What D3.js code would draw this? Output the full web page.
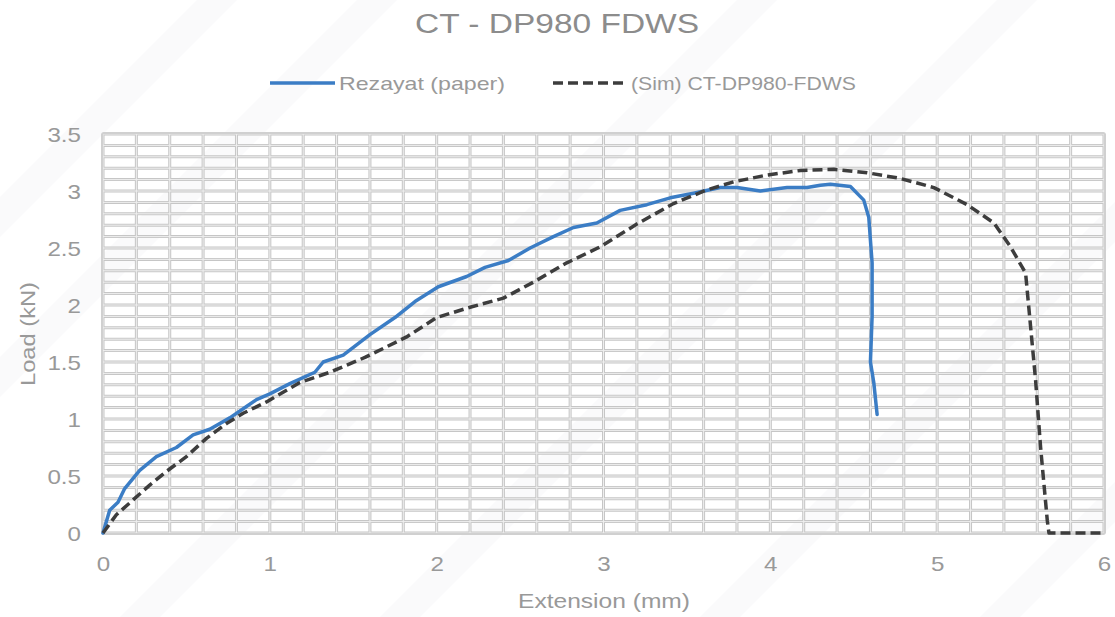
<!DOCTYPE html>
<html>
<head>
<meta charset="utf-8">
<script src="https://cdn.jsdelivr.net/npm/d3@7"></script>
<style>
  html, body { margin: 0; padding: 0; background: #ffffff; }
  svg { display: block; font-family: "Liberation Sans", Arial, sans-serif; }
</style>
</head>
<body>
<svg id="chart" width="1115" height="617"></svg>
<script>
// Load–extension curves for the CT specimen, DP980 FDWS
const titleText = "CT - DP980 FDWS";
const seriesNames = ["Rezayat (paper)", "(Sim) CT-DP980-FDWS"];

const paperExt  = [0, 0.04, 0.09, 0.13, 0.22, 0.32, 0.44, 0.54, 0.64, 0.76, 0.86, 0.92, 1.00, 1.12, 1.27, 1.32,
                   1.44, 1.60, 1.75, 1.87, 2.01, 2.18, 2.29, 2.43, 2.56, 2.70, 2.82, 2.96, 3.10, 3.26, 3.40, 3.54,
                   3.70, 3.80, 3.94, 4.10, 4.22, 4.30, 4.36, 4.48, 4.56, 4.59, 4.60, 4.61, 4.61, 4.60, 4.62, 4.64];
const paperLoad = [0, 0.20, 0.27, 0.39, 0.55, 0.67, 0.75, 0.86, 0.91, 1.01, 1.11, 1.17, 1.22, 1.31, 1.41, 1.50,
                   1.56, 1.74, 1.89, 2.03, 2.16, 2.25, 2.33, 2.39, 2.50, 2.60, 2.68, 2.72, 2.83, 2.88, 2.94, 2.98,
                   3.03, 3.03, 3.00, 3.03, 3.03, 3.05, 3.06, 3.04, 2.92, 2.77, 2.57, 2.37, 1.90, 1.50, 1.32, 1.04];

const simExt  = [0, 0.08, 0.18, 0.28, 0.38, 0.50, 0.62, 0.74, 0.84, 0.98, 1.18, 1.36, 1.57, 1.82, 2.00, 2.20,
                 2.40, 2.58, 2.78, 2.98, 3.20, 3.42, 3.62, 3.78, 3.98, 4.18, 4.38, 4.58, 4.78, 4.98, 5.18, 5.34,
                 5.44, 5.53, 5.56, 5.59, 5.62, 5.66, 5.67, 6.00];
const simLoad = [0, 0.16, 0.29, 0.42, 0.54, 0.67, 0.83, 0.96, 1.05, 1.15, 1.32, 1.41, 1.54, 1.72, 1.89, 1.98,
                 2.06, 2.20, 2.37, 2.51, 2.71, 2.89, 3.01, 3.08, 3.14, 3.18, 3.19, 3.16, 3.11, 3.03, 2.88, 2.72,
                 2.51, 2.28, 1.81, 1.34, 0.75, 0.11, 0, 0];

const xTicks = [0, 1, 2, 3, 4, 5, 6];
const yTicks = [0, 0.5, 1, 1.5, 2, 2.5, 3, 3.5];

const svg = d3.select("#chart");
const W = 1115, H = 617;
const plot = { left: 103, right: 1104, top: 134, bottom: 533 };
const textColor = "#999999";

// widen text horizontally by a factor
function widen(sel, k = 1.2) {
  sel.each(function () {
    const len = this.getComputedTextLength();
    d3.select(this).attr("textLength", len * k).attr("lengthAdjust", "spacingAndGlyphs");
  });
  return sel;
}
// set text to a fixed drawn width
function fit(sel, w) {
  return sel.attr("textLength", w).attr("lengthAdjust", "spacingAndGlyphs");
}

// very faint diagonal banding in the background
const bands = svg.append("g").attr("fill", "#f4f5f7").attr("opacity", 0.45);
[-420, -260, 120, 380, 700, 980].forEach(o => {
  bands.append("polygon")
    .attr("points", `${o},${H} ${o + 40},${H} ${o + 40 + H},0 ${o + H},0`);
});

const x = d3.scaleLinear().domain([0, 6]).range([plot.left, plot.right]);
const y = d3.scaleLinear().domain([0, 3.5]).range([plot.bottom, plot.top]);

// grid: minor lines every 0.2 mm and 0.1 kN, drawn as a double rule
const grid = svg.append("g");
const gx = d3.range(0, 6.0001, 0.2);
const gy = d3.range(0, 3.5001, 0.1);
function rule(color, width) {
  const g = grid.append("g").attr("stroke", color).attr("stroke-width", width);
  g.selectAll(".v").data(gx).join("line")
    .attr("x1", d => x(d)).attr("x2", d => x(d))
    .attr("y1", plot.top).attr("y2", plot.bottom);
  g.selectAll(".h").data(gy).join("line")
    .attr("y1", d => y(d)).attr("y2", d => y(d))
    .attr("x1", plot.left).attr("x2", plot.right);
}
rule("#c6c6c6", 3);
rule("#efefef", 1);

grid.append("rect")
  .attr("x", plot.left - 1).attr("y", plot.top - 1)
  .attr("width", plot.right - plot.left + 2).attr("height", plot.bottom - plot.top + 2)
  .attr("rx", 2).attr("fill", "none").attr("stroke", "#d0d0d0").attr("stroke-width", 2);

// axes (labels only, no tick marks)
const xAxis = d3.axisBottom(x).tickValues(xTicks).tickSize(0).tickPadding(0).tickFormat(d3.format("~g"));
const yAxis = d3.axisLeft(y).tickValues(yTicks).tickSize(0).tickPadding(0).tickFormat(d3.format("~g"));

const gX = svg.append("g").attr("transform", `translate(0,${plot.bottom})`).call(xAxis);
gX.select(".domain").remove();
gX.selectAll("text").attr("y", 38).attr("dy", null)
  .attr("font-size", 21).attr("fill", textColor)
  .attr("font-family", "'Liberation Sans', Arial, sans-serif").call(widen, 1.15);

const gY = svg.append("g").attr("transform", `translate(${plot.left - 22},0)`).call(yAxis);
gY.select(".domain").remove();
gY.selectAll("text").attr("x", 0).attr("dy", 7)
  .attr("font-size", 21).attr("fill", textColor)
  .attr("font-family", "'Liberation Sans', Arial, sans-serif").call(widen, 1.15);

// curves
const line = d3.line().x(d => x(d[0])).y(d => y(d[1]));
const paperPts = d3.zip(paperExt, paperLoad);
const simPts = d3.zip(simExt, simLoad);

svg.append("path").datum(paperPts)
  .attr("d", line).attr("fill", "none")
  .attr("stroke", "#3b7dc5").attr("stroke-width", 3.5)
  .attr("stroke-linejoin", "round").attr("stroke-linecap", "round");

svg.append("path").datum(simPts)
  .attr("d", line).attr("fill", "none")
  .attr("stroke", "#3d3d3d").attr("stroke-width", 3.5)
  .attr("stroke-dasharray", "10,5").attr("stroke-linejoin", "round");

// title
svg.append("text").text(titleText)
  .attr("x", 557).attr("y", 33).attr("text-anchor", "middle")
  .attr("font-size", 27).attr("fill", "#8c8c8c").call(fit, 284);

// legend
const legend = svg.append("g");
legend.append("line").attr("x1", 270).attr("x2", 335).attr("y1", 83).attr("y2", 83)
  .attr("stroke", "#3b7dc5").attr("stroke-width", 3.5);
legend.append("text").text(seriesNames[0]).attr("x", 339).attr("y", 90)
  .attr("font-size", 19).attr("fill", textColor).call(fit, 166);
legend.append("line").attr("x1", 553).attr("x2", 627).attr("y1", 83).attr("y2", 83)
  .attr("stroke", "#3d3d3d").attr("stroke-width", 3.5).attr("stroke-dasharray", "10,5");
legend.append("text").text(seriesNames[1]).attr("x", 631).attr("y", 90)
  .attr("font-size", 19).attr("fill", textColor).call(fit, 225);

// axis titles
svg.append("text").text("Extension (mm)")
  .attr("x", 604).attr("y", 608).attr("text-anchor", "middle")
  .attr("font-size", 21).attr("fill", textColor).call(fit, 172);

svg.append("text").text("Load (kN)")
  .attr("transform", "translate(35,334) rotate(-90)").attr("text-anchor", "middle")
  .attr("font-size", 21).attr("fill", textColor).call(fit, 104);
</script>
</body>
</html>
